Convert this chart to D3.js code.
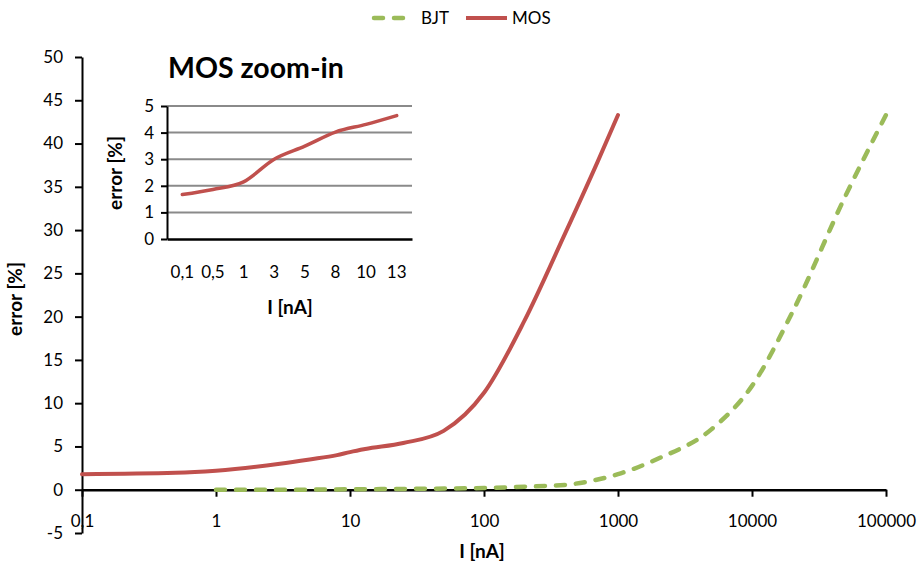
<!DOCTYPE html>
<html>
<head>
<meta charset="utf-8">
<script src="https://d3js.org/d3.v7.min.js"></script>
<style>
  html, body { margin: 0; padding: 0; background: #fff; }
  svg text { font-family: Lato, "Open Sans", sans-serif; fill: #000; }
  .tick text { font-size: 17px; }
  .axis-title { font-size: 19px; font-weight: bold; }
</style>
</head>
<body>
<div id="vis"></div>
<script>
// main chart data: current in nA, error in %
var mosI   = [0.1, 0.5, 1, 3, 5, 8, 10, 13, 25, 50, 100, 200, 400, 700, 1000];
var mosErr = [1.8, 1.95, 2.2, 3.0, 3.5, 4.0, 4.35, 4.7, 5.4, 6.8, 11.2, 19.5, 29.5, 37.8, 43.3];

var bjtI   = [1, 3, 10, 30, 100, 200, 400, 600, 1000, 2000, 5000, 10000, 20000, 50000, 100000];
var bjtErr = [0, 0, 0.05, 0.1, 0.2, 0.35, 0.55, 0.95, 1.8, 3.6, 7, 12, 20.5, 34, 43.3];

var xTicks = [0.1, 1, 10, 100, 1000, 10000, 100000];
var xTickLabels = ['0,1', '1', '10', '100', '1000', '10000', '100000'];
var yTicks = [-5, 0, 5, 10, 15, 20, 25, 30, 35, 40, 45, 50];

// inset data
var zoomCats = ['0,1', '0,5', '1', '3', '5', '8', '10', '13'];
var zoomErr  = [1.67, 1.86, 2.15, 3.0, 3.49, 4.02, 4.31, 4.64];
var zoomYTicks = [0, 1, 2, 3, 4, 5];

var W = 917, H = 569;
var green = '#9BBB59', red = '#C0504D';

var svg = d3.select('#vis').append('svg')
    .attr('width', W)
    .attr('height', H);

function plain(d) { return String(d); }

// ---- main chart ----
var x = d3.scaleLog().domain([0.1, 100000]).range([82, 886]);
var y = d3.scaleLinear().domain([-5, 50]).range([533, 57]);

var yAxis = d3.axisLeft(y).tickValues(yTicks).tickFormat(plain)
    .tickSize(7).tickPadding(12).tickSizeOuter(0);
svg.append('g')
    .attr('transform', 'translate(82,0)')
    .call(yAxis)
    .call(function(g) {
        g.select('.domain').attr('stroke', '#000').attr('stroke-width', 2);
        g.selectAll('.tick line').attr('stroke', '#000').attr('stroke-width', 2);
    });

var xAxis = d3.axisBottom(x).tickValues(xTicks)
    .tickFormat(function(d, i) { return xTickLabels[i]; })
    .tickSize(7).tickPadding(18).tickSizeOuter(0);
svg.append('g')
    .attr('transform', 'translate(0,' + y(0) + ')')
    .call(xAxis)
    .call(function(g) {
        g.select('.domain').attr('stroke', '#000').attr('stroke-width', 2.5);
        g.selectAll('.tick line').attr('stroke', '#000').attr('stroke-width', 2);
    });

svg.append('text')
    .attr('class', 'axis-title')
    .attr('x', 482).attr('y', 558)
    .attr('text-anchor', 'middle')
    .text('I [nA]');

svg.append('text')
    .attr('class', 'axis-title')
    .attr('transform', 'translate(22,299) rotate(-90)')
    .attr('text-anchor', 'middle')
    .text('error [%]');

var line = d3.line()
    .x(function(d) { return x(d[0]); })
    .y(function(d) { return y(d[1]); })
    .curve(d3.curveMonotoneX);

svg.append('path')
    .datum(d3.zip(bjtI, bjtErr))
    .attr('d', line)
    .attr('fill', 'none')
    .attr('stroke', green)
    .attr('stroke-width', 4.5)
    .attr('stroke-linecap', 'round')
    .attr('stroke-dasharray', '9,11');

svg.append('path')
    .datum(d3.zip(mosI, mosErr))
    .attr('d', line)
    .attr('fill', 'none')
    .attr('stroke', red)
    .attr('stroke-width', 4)
    .attr('stroke-linecap', 'round');

// ---- legend ----
var legend = svg.append('g');
legend.append('line')
    .attr('x1', 374).attr('x2', 408).attr('y1', 18).attr('y2', 18)
    .attr('stroke', green).attr('stroke-width', 4.5)
    .attr('stroke-linecap', 'round').attr('stroke-dasharray', '9,11');
legend.append('text')
    .attr('x', 421).attr('y', 24)
    .style('font-size', '17px')
    .text('BJT');
legend.append('line')
    .attr('x1', 466).attr('x2', 507).attr('y1', 18).attr('y2', 18)
    .attr('stroke', red).attr('stroke-width', 4);
legend.append('text')
    .attr('x', 512).attr('y', 24)
    .style('font-size', '17px')
    .text('MOS');

// ---- inset ----
var ix = d3.scaleBand().domain(zoomCats).range([167, 412]);
var iy = d3.scaleLinear().domain([0, 5]).range([239, 106]);

var inset = svg.append('g');

inset.append('g')
    .selectAll('line')
    .data(zoomYTicks.filter(function(d) { return d > 0; }))
    .join('line')
    .attr('x1', 167).attr('x2', 412)
    .attr('y1', function(d) { return iy(d); })
    .attr('y2', function(d) { return iy(d); })
    .attr('stroke', '#8a8a8a')
    .attr('stroke-width', 2);

inset.append('g')
    .attr('transform', 'translate(167,0)')
    .call(d3.axisLeft(iy).tickValues(zoomYTicks).tickFormat(plain)
        .tickSize(6).tickPadding(7).tickSizeOuter(0))
    .call(function(g) {
        g.select('.domain').attr('stroke', '#000').attr('stroke-width', 2);
        g.selectAll('.tick line').attr('stroke', '#000').attr('stroke-width', 2);
    });

inset.append('g')
    .attr('transform', 'translate(0,' + iy(0) + ')')
    .call(d3.axisBottom(ix).tickSize(0).tickPadding(27).tickSizeOuter(0))
    .call(function(g) {
        g.select('.domain').attr('stroke', '#000').attr('stroke-width', 2.5);
    });

inset.append('path')
    .datum(d3.zip(zoomCats, zoomErr))
    .attr('d', d3.line()
        .x(function(d) { return ix(d[0]) + ix.bandwidth() / 2; })
        .y(function(d) { return iy(d[1]); })
        .curve(d3.curveMonotoneX))
    .attr('fill', 'none')
    .attr('stroke', red)
    .attr('stroke-width', 3.5)
    .attr('stroke-linecap', 'round');

inset.append('text')
    .attr('x', 168).attr('y', 78)
    .style('font-size', '28.5px')
    .style('font-weight', 'bold')
    .text('MOS zoom-in');

inset.append('text')
    .attr('class', 'axis-title')
    .attr('x', 290).attr('y', 314)
    .attr('text-anchor', 'middle')
    .text('I [nA]');

inset.append('text')
    .attr('class', 'axis-title')
    .attr('transform', 'translate(122,173) rotate(-90)')
    .attr('text-anchor', 'middle')
    .text('error [%]');
</script>
</body>
</html>
